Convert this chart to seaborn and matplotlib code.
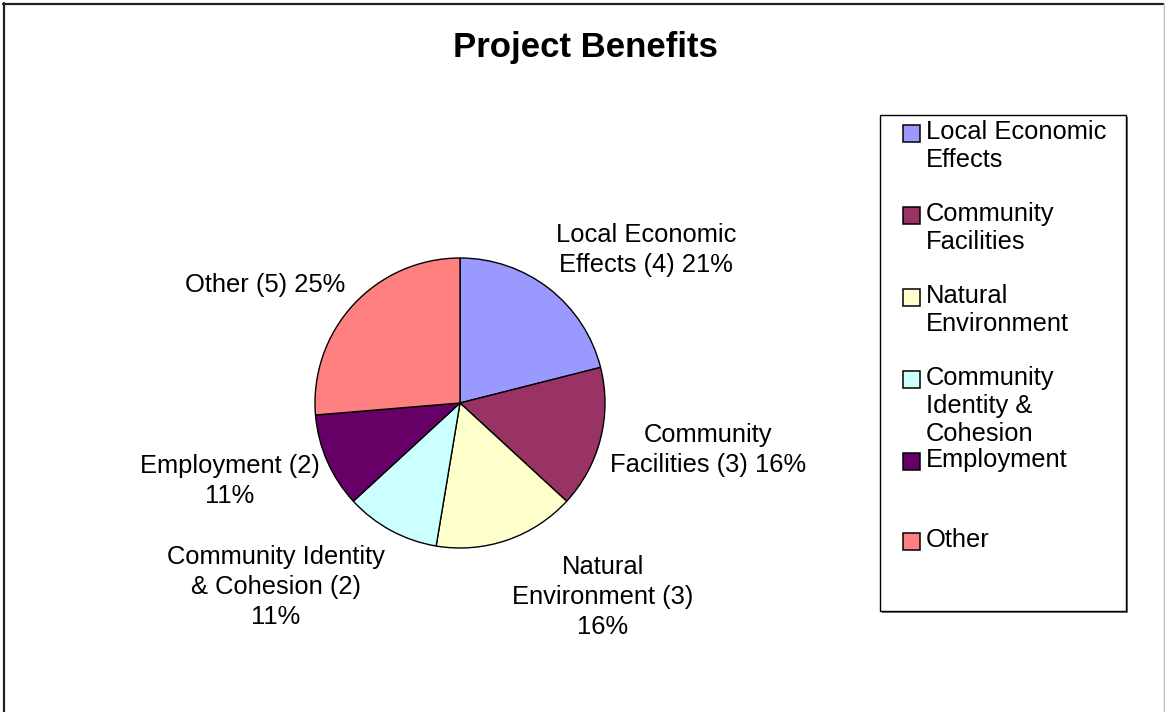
import matplotlib
matplotlib.use("Agg")
import matplotlib.pyplot as plt
from matplotlib.patches import Rectangle
from matplotlib.lines import Line2D
import seaborn as sns

sns.set_theme(style="white")
plt.rcParams["font.family"] = ["Liberation Sans", "DejaVu Sans"]

# Benefit categories and response counts
categories = ["Local Economic Effects", "Community Facilities", "Natural Environment",
              "Community Identity & Cohesion", "Employment", "Other"]
legend_labels = ["Local Economic\nEffects", "Community\nFacilities", "Natural\nEnvironment",
                 "Community\nIdentity &\nCohesion", "Employment", "Other"]
counts = [4, 3, 3, 2, 2, 5]
percent_labels = ["21%", "16%", "16%", "11%", "11%", "25%"]
slice_labels = ["Local Economic\nEffects (4) 21%", "Community\nFacilities (3) 16%",
                "Natural\nEnvironment (3)\n16%", "Community Identity\n& Cohesion (2)\n11%",
                "Employment (2)\n11%", "Other (5) 25%"]
colors = ["#9999FF", "#993366", "#FFFFCC", "#CCFFFF", "#660066", "#FF8080"]

W, H = 1165, 712
fig = plt.figure(figsize=(W / 100, H / 100), dpi=100)
fig.patch.set_facecolor("white")

def fx(px):
    return px / W

def fy(py):
    return 1 - py / H

# Pie axes: centre (460, 403) px, radius 145 px
cx, cy, r = 460, 403, 145
ax = fig.add_axes([fx(cx - r), fy(cy + r), 2 * r / W, 2 * r / H])
palette = sns.color_palette(colors)
ax.pie(counts, colors=palette, startangle=90, counterclock=False, radius=1,
       wedgeprops=dict(edgecolor="black", linewidth=1.0))
ax.set_xlim(-1, 1)
ax.set_ylim(-1, 1)
ax.set_aspect("equal")
ax.axis("off")

FS = 18.4
# Slice labels, anchored in pie data coordinates
label_pos = [(646, 250), (708, 450), (603, 597), (276, 587), (230, 481), (265, 285)]
for text, (px, py) in zip(slice_labels, label_pos):
    ax.text((px - cx) / r, (cy - py) / r, text, ha="center", va="center",
            fontsize=FS, linespacing=1.32, color="black", clip_on=False)

fig.text(fx(585), fy(47), "Project Benefits", ha="center", va="center",
         fontsize=25, fontweight="bold", color="black")

# Chart area border: dark top/left edges, light right edge
fig.lines.append(Line2D([fx(3), fx(1163)], [fy(3.5), fy(3.5)], transform=fig.transFigure,
                        color="#222222", linewidth=1.6))
fig.lines.append(Line2D([fx(3.5), fx(3.5)], [fy(3), fy(712)], transform=fig.transFigure,
                        color="#222222", linewidth=1.6))
fig.lines.append(Line2D([fx(1163.5), fx(1163.5)], [fy(3), fy(712)], transform=fig.transFigure,
                        color="#bbbbbb", linewidth=1.0))

# Legend box with shadow
lx0, ly0, lx1, ly1 = 880, 115, 1126, 611
fig.patches.append(Rectangle((fx(lx0 + 2), fy(ly1 + 2)), fx(lx1 - lx0), (ly1 - ly0) / H,
                             transform=fig.transFigure, facecolor="#777777", edgecolor="none"))
fig.patches.append(Rectangle((fx(lx0), fy(ly1)), fx(lx1 - lx0), (ly1 - ly0) / H,
                             transform=fig.transFigure, facecolor="white",
                             edgecolor="black", linewidth=1.0))

entry_y = [133, 215, 297, 379, 461, 541]
for lab, col, ey in zip(legend_labels, palette, entry_y):
    fig.patches.append(Rectangle((fx(903), fy(ey + 9)), fx(17), 17 / H, transform=fig.transFigure,
                                 facecolor=col, edgecolor="black", linewidth=1.1))
    fig.text(fx(926), fy(ey - 13), lab, ha="left", va="top", fontsize=FS,
             linespacing=1.2, color="black")

fig.savefig("out.png", dpi=100, facecolor="white")
